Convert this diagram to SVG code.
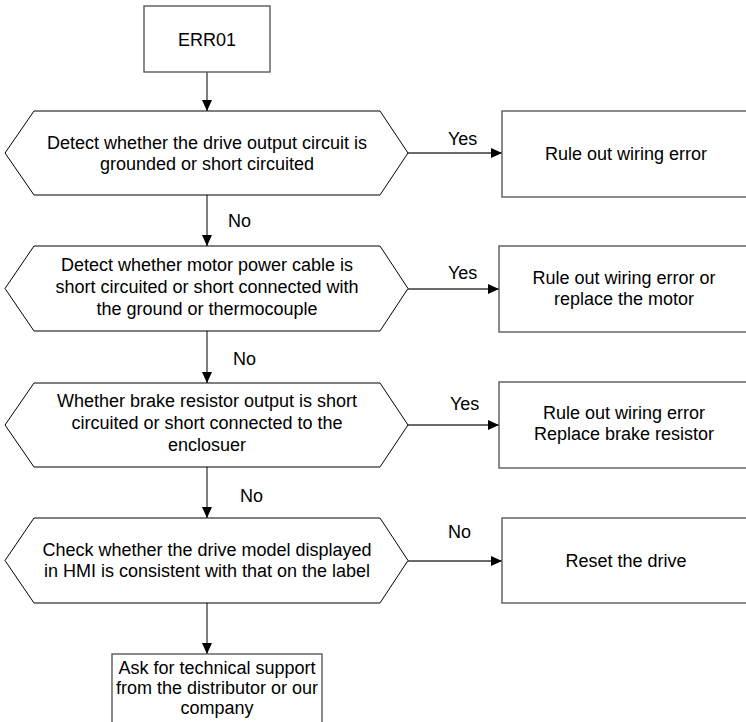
<svg xmlns="http://www.w3.org/2000/svg" width="746" height="722" viewBox="0 0 746 722">
<style>
text{font-family:"Liberation Sans",Arial,sans-serif;font-size:18px;fill:#000;text-anchor:middle}
.lbl{text-anchor:start}
.box{fill:#fff;stroke:#5a5a5a;stroke-width:1.4}
.hex{fill:#fff;stroke:#000;stroke-width:1}
.con{fill:none;stroke:#3a3a3a;stroke-width:1.3;marker-end:url(#arr)}
</style>
<defs>
<marker id="arr" markerUnits="userSpaceOnUse" markerWidth="12" markerHeight="10" refX="11" refY="5" orient="auto">
<path d="M0,0 L11,5 L0,10 z" fill="#000"/>
</marker>
</defs>
<rect width="746" height="722" fill="#fff"/>
<g id="connectors">
<line class="con" x1="207" y1="72" x2="207" y2="111"/>
<line class="con" x1="207" y1="195" x2="207" y2="246"/>
<line class="con" x1="207" y1="331" x2="207" y2="383"/>
<line class="con" x1="207" y1="467" x2="207" y2="518"/>
<line class="con" x1="207" y1="603" x2="207" y2="654"/>
<line class="con" x1="408" y1="153" x2="502" y2="153"/>
<line class="con" x1="408" y1="289" x2="499" y2="289"/>
<line class="con" x1="408" y1="425" x2="499" y2="425"/>
<line class="con" x1="408" y1="561" x2="502" y2="561"/>
<text class="lbl" x="448" y="145">Yes</text>
<text class="lbl" x="448" y="279">Yes</text>
<text class="lbl" x="450" y="410">Yes</text>
<text class="lbl" x="448" y="538">No</text>
<text class="lbl" x="228" y="227">No</text>
<text class="lbl" x="233" y="365">No</text>
<text class="lbl" x="240" y="502">No</text>
</g>
<g id="start">
<rect class="box" x="144" y="6" width="126" height="66"/>
<text x="207" y="46">ERR01</text>
</g>
<g id="q1">
<polygon class="hex" points="5,153 34,111 380,111 408,153 380,195 34,195"/>
<text x="207" y="149">Detect whether the drive output circuit is</text>
<text x="207" y="170">grounded or short circuited</text>
</g>
<g id="q2">
<polygon class="hex" points="5,288.5 34,246 380,246 408,288.5 380,331 34,331"/>
<text x="207" y="271">Detect whether motor power cable is</text>
<text x="207" y="293">short circuited or short connected with</text>
<text x="207" y="315">the ground or thermocouple</text>
</g>
<g id="q3">
<polygon class="hex" points="5,425 34,383 380,383 408,425 380,467 34,467"/>
<text x="207" y="407">Whether brake resistor output is short</text>
<text x="207" y="429">circuited or short connected to the</text>
<text x="207" y="451">enclosuer</text>
</g>
<g id="q4">
<polygon class="hex" points="5,560.5 34,518 380,518 408,560.5 380,603 34,603"/>
<text x="207" y="556">Check whether the drive model displayed</text>
<text x="207" y="577">in HMI is consistent with that on the label</text>
</g>
<g id="a1">
<rect class="box" x="502" y="111" width="250" height="86"/>
<text x="626" y="160">Rule out wiring error</text>
</g>
<g id="a2">
<rect class="box" x="499" y="246" width="253" height="86"/>
<text x="624" y="284">Rule out wiring error or</text>
<text x="624" y="305">replace the motor</text>
</g>
<g id="a3">
<rect class="box" x="499" y="382" width="253" height="86"/>
<text x="624" y="419">Rule out wiring error</text>
<text x="624" y="440">Replace brake resistor</text>
</g>
<g id="a4">
<rect class="box" x="502" y="518" width="250" height="85"/>
<text x="626" y="567">Reset the drive</text>
</g>
<g id="support">
<rect class="box" x="112" y="654" width="210" height="80"/>
<text x="217" y="674">Ask for technical support</text>
<text x="217" y="694">from the distributor or our</text>
<text x="217" y="714">company</text>
</g>
</svg>
